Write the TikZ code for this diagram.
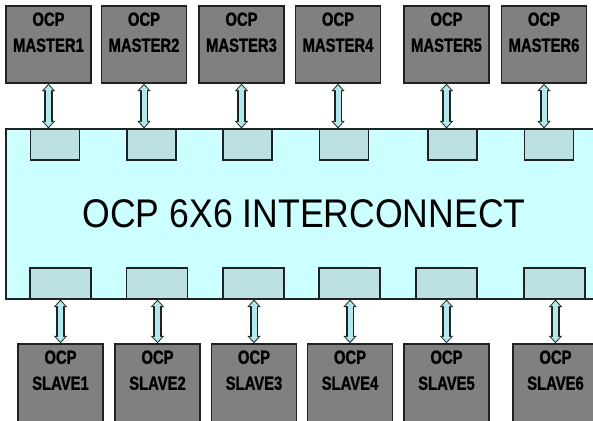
\documentclass[tikz,border=0pt]{standalone}
\usepackage{fontspec}
\usepackage{xcolor}
\usepackage{tikz}
\usetikzlibrary{arrows.meta}
\newfontfamily\boxfont[FakeStretch=0.78,FakeBold=1.2]{Liberation Sans}
\newfontfamily\icfont[FakeStretch=0.89]{Liberation Sans}
\definecolor{boxgray}{RGB}{128,128,128}
\definecolor{edgedark}{RGB}{30,34,34}
\definecolor{icfill}{RGB}{204,255,255}
\definecolor{portfill}{RGB}{189,224,227}
\definecolor{busfill}{RGB}{176,232,236}

\begin{document}
\begin{tikzpicture}[x=1pt,y=-1pt,
      unit/.style={draw=edgedark,fill=boxgray,line width=1.4pt,inner sep=0pt,
                   minimum width=85pt,minimum height=77pt},
      unitlab/.style={anchor=north,align=center,inner sep=0pt,yshift=-7pt,
                      font=\boxfont\bfseries\fontsize{19}{26}\selectfont},
      ic/.style={draw=edgedark,fill=icfill,line width=1.2pt,inner sep=0pt,
                 minimum width=596pt,minimum height=170pt,
                 font=\icfont\fontsize{40}{44}\selectfont},
      tport/.style={draw=edgedark,fill=portfill,line width=1.1pt,inner sep=0pt,
                    minimum width=49pt,minimum height=31pt},
      bport/.style={tport,minimum width=61pt},
      bus/.style={line width=5pt,draw=busfill,
                  {Triangle[width=9pt,length=5pt]}-{Triangle[width=9pt,length=5pt]},
                  shorten <=1.5pt,shorten >=1.5pt,
                  preaction={draw=edgedark,line width=8.5pt,
                  {Triangle[width=13pt,length=7.5pt]}-{Triangle[width=13pt,length=7.5pt]},
                  shorten <=0pt,shorten >=0pt}}]
      \useasboundingbox (0,0) rectangle (593,420);
      \clip (0,0) rectangle (593,420);
      % interconnect with its ports
      \node[ic] (ic) at (304,214) {OCP 6X6 INTERCONNECT};
      \node[tport] (t1) at (55,144.5) {};
      \node[tport] (t2) at (151.5,144.5) {};
      \node[tport] (t3) at (247.5,144.5) {};
      \node[tport] (t4) at (344,144.5) {};
      \node[tport] (t5) at (452.5,144.5) {};
      \node[tport] (t6) at (549,144.5) {};
      \node[bport] (b1) at (60.5,283.5) {};
      \node[bport] (b2) at (157,283.5) {};
      \node[bport] (b3) at (253.5,283.5) {};
      \node[bport] (b4) at (349.5,283.5) {};
      \node[bport] (b5) at (446.5,283.5) {};
      \node[bport] (b6) at (554.5,283.5) {};
      % masters
      \node[unit,label={[unitlab]north:{OCP\\MASTER1}}] (m1) at (48.5,44.5) {};
      \node[unit,label={[unitlab]north:{OCP\\MASTER2}}] (m2) at (144,44.5) {};
      \node[unit,label={[unitlab]north:{OCP\\MASTER3}}] (m3) at (241.5,44.5) {};
      \node[unit,label={[unitlab]north:{OCP\\MASTER4}}] (m4) at (338,44.5) {};
      \node[unit,label={[unitlab]north:{OCP\\MASTER5}}] (m5) at (446.5,44.5) {};
      \node[unit,label={[unitlab]north:{OCP\\MASTER6}}] (m6) at (544,44.5) {};
      % slaves
      \node[unit,minimum height=86pt,label={[unitlab]north:{OCP\\SLAVE1}}] (s1) at (60.5,387) {};
      \node[unit,minimum height=86pt,label={[unitlab]north:{OCP\\SLAVE2}}] (s2) at (157.5,387) {};
      \node[unit,minimum height=86pt,label={[unitlab]north:{OCP\\SLAVE3}}] (s3) at (254,387) {};
      \node[unit,minimum height=86pt,label={[unitlab]north:{OCP\\SLAVE4}}] (s4) at (350,387) {};
      \node[unit,minimum height=86pt,label={[unitlab]north:{OCP\\SLAVE5}}] (s5) at (446.5,387) {};
      \node[unit,minimum height=86pt,label={[unitlab]north:{OCP\\SLAVE6}}] (s6) at (555.5,387) {};
      % buses
      \draw[bus] (m1.south) -- (m1.south |- t1.north);
      \draw[bus] (m2.south) -- (m2.south |- t2.north);
      \draw[bus] (m3.south) -- (m3.south |- t3.north);
      \draw[bus] (m4.south) -- (m4.south |- t4.north);
      \draw[bus] (m5.south) -- (m5.south |- t5.north);
      \draw[bus] (m6.south) -- (m6.south |- t6.north);
      \draw[bus] (s1.north |- b1.south) -- (s1.north);
      \draw[bus] (s2.north |- b2.south) -- (s2.north);
      \draw[bus] (s3.north |- b3.south) -- (s3.north);
      \draw[bus] (s4.north |- b4.south) -- (s4.north);
      \draw[bus] (s5.north |- b5.south) -- (s5.north);
      \draw[bus] (s6.north |- b6.south) -- (s6.north);
    \end{tikzpicture}
\end{document}
